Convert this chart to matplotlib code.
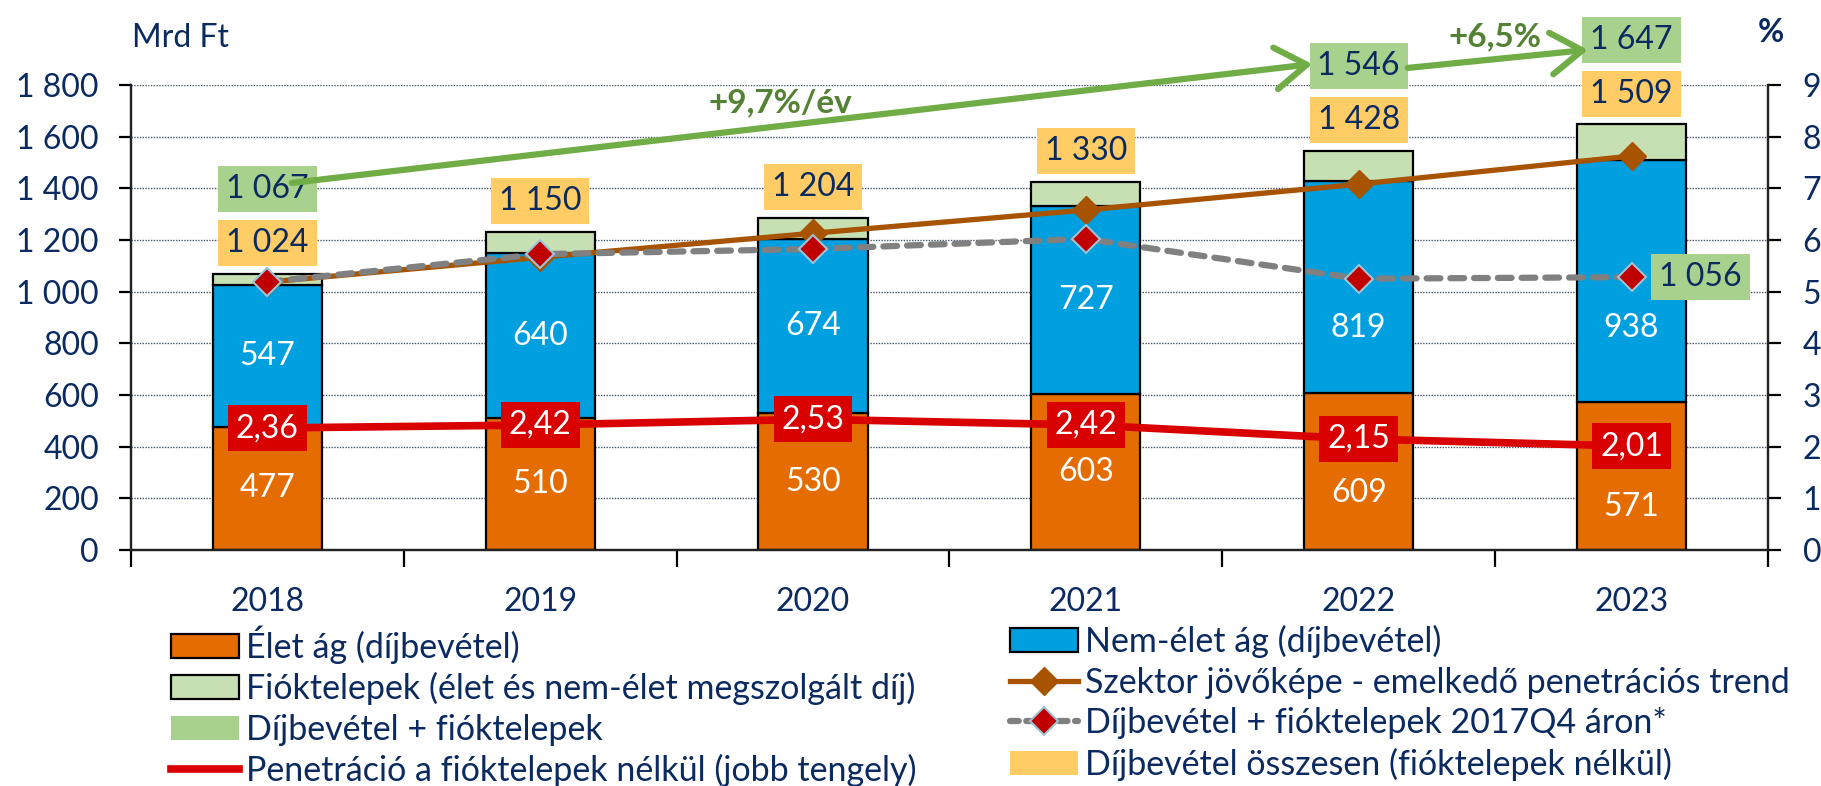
import numpy as np
import matplotlib
matplotlib.use("Agg")
import matplotlib.pyplot as plt
from matplotlib.patches import Patch
from matplotlib.lines import Line2D
from matplotlib.ticker import FuncFormatter

plt.rcParams['font.family'] = ['Lato', 'DejaVu Sans']

# data (Mrd Ft, %)
years = ['2018', '2019', '2020', '2021', '2022', '2023']
elet = [477, 510, 530, 603, 609, 571]
nemelet = [547, 640, 674, 727, 819, 938]
fiok = [43, 80, 80, 96, 118, 138]
penetracio = [2.36, 2.42, 2.53, 2.42, 2.15, 2.01]
trend = [1037, 1133, 1226, 1316, 1416, 1525]
arazott = [1038, 1145, 1165, 1204, 1050, 1056]
show_total = [True, False, False, False, True, True]

NAVY = '#0B2A60'
ORANGE = '#E46C00'
BLUE = '#009FDF'
LGREEN = '#C6E0B4'
GBOX = '#A9D18E'
OBOX = '#FFCC66'
RED = '#D90000'
BROWN = '#A75300'
GRAY = '#808080'
ARROW = '#70AD47'
DGREEN = '#548235'
FS = 23


def hu(v):
    return f"{int(round(v)):,}".replace(',', ' ')


x = np.arange(len(years))
osszesen = np.array(elet) + np.array(nemelet)
total = osszesen + np.array(fiok)

fig = plt.figure(figsize=(18.21, 7.86), dpi=100)
ax = fig.add_axes([0.0719, 0.3003, 0.899, 0.5916])
ax2 = ax.twinx()

w = 0.4
ax.bar(x, elet, w, color=ORANGE, edgecolor='black', lw=1.6, zorder=2)
ax.bar(x, nemelet, w, bottom=elet, color=BLUE, edgecolor='black', lw=1.6, zorder=2)
ax.bar(x, fiok, w, bottom=osszesen, color=LGREEN, edgecolor='black', lw=1.6, zorder=2)

ax.plot(x, trend, color=BROWN, lw=3.8, marker='D', ms=14, mfc=BROWN, mec=BROWN, zorder=3)
ax.plot(x, arazott, color=GRAY, lw=4.5, ls=(0, (2.2, 1.6)), dash_capstyle='round',
        marker='D', ms=14, mfc='#C00000', mec='#9DC3D6', mew=1.5, zorder=4)

# labels in the bars
nudge_elet = [0, 0, 0, 0, -84, -119]
nudge_nem = [0, 0, 0, 0, -159, -181]
for i in x:
    ax.text(i, elet[i] / 2 + nudge_elet[i], hu(elet[i]), color='white', ha='center',
            va='center', fontsize=FS, zorder=5)
    ax.text(i, elet[i] + nemelet[i] / 2 + nudge_nem[i], hu(nemelet[i]), color='white',
            ha='center', va='center', fontsize=FS, zorder=5)

# boxes above bars
box_h = 54 * 72 / 100
for i in x:
    ax.annotate(hu(osszesen[i]), xy=(i, total[i]), xytext=(0, 11.5), textcoords='offset points',
                ha='center', va='bottom', fontsize=FS, color=NAVY, zorder=6,
                bbox=dict(boxstyle='square,pad=0.25', fc=OBOX, ec='none'), annotation_clip=False)
    if show_total[i]:
        ax.annotate(hu(total[i]), xy=(i, total[i]), xytext=(0, 11.5 + box_h), textcoords='offset points',
                    ha='center', va='bottom', fontsize=FS, color=NAVY, zorder=6,
                    bbox=dict(boxstyle='square,pad=0.25', fc=GBOX, ec='none'), annotation_clip=False)

ax.annotate(hu(arazott[-1]), xy=(x[-1], arazott[-1]), xytext=(20, 0), textcoords='offset points',
            ha='left', va='center', fontsize=FS, color=NAVY, zorder=6,
            bbox=dict(boxstyle='square,pad=0.25', fc=GBOX, ec='none'))

# growth arrows
arr = dict(arrowstyle='->,head_length=0.75,head_width=0.5', color=ARROW, lw=4.5,
           shrinkA=0, shrinkB=0, mutation_scale=30)
ax.annotate('', xy=(3.83, 1881), xytext=(0.09, 1421), arrowprops=arr, annotation_clip=False, zorder=7)
ax.annotate('', xy=(4.84, 1936), xytext=(4.18, 1866), arrowprops=arr, annotation_clip=False, zorder=7)
ax.text(1.88, 1731, '+9,7%/év', color=DGREEN, fontsize=24, fontweight='bold', ha='center', va='center')
ax.text(4.5, 1986, '+6,5%', color=DGREEN, fontsize=24, fontweight='bold', ha='center', va='center')

# penetration on right axis
ax2.plot(x, penetracio, color=RED, lw=5.5, zorder=2)
for i in x:
    ax2.text(i, penetracio[i], f"{penetracio[i]:.2f}".replace('.', ','), color='white', ha='center',
             va='center', fontsize=FS, zorder=3,
             bbox=dict(boxstyle='square,pad=0.25', fc=RED, ec='none'))

# axes styling
ax.set_xlim(-0.5, len(years) - 0.5)
ax.set_ylim(0, 1800)
ax2.set_ylim(0, 9)
ax.set_yticks(np.arange(0, 1801, 200))
ax2.set_yticks(np.arange(0, 10, 1))
ax.yaxis.set_major_formatter(FuncFormatter(lambda v, p: hu(v)))
ax.set_axisbelow(True)
ax.yaxis.grid(True, ls=(0, (1, 1)), color='#44546A', lw=1.0)

ax.set_xticks(np.arange(-0.5, len(years), 1))
ax.set_xticklabels([])
ax.set_xticks(x, minor=True)
ax.set_xticklabels(years, minor=True)
ax.tick_params(axis='x', which='major', length=12, width=1.6, direction='out', color='black')
ax.tick_params(axis='x', which='minor', length=0, pad=27, labelsize=FS, labelcolor=NAVY)
ax.tick_params(axis='y', length=9, width=1.6, pad=14, labelsize=FS, labelcolor=NAVY)
ax2.tick_params(axis='y', length=9, width=1.6, pad=16, labelsize=FS, labelcolor=NAVY)

for a in (ax, ax2):
    a.spines['top'].set_visible(False)
    for s in ('left', 'right', 'bottom'):
        a.spines[s].set_linewidth(1.6)
        a.spines[s].set_color('#222222')

fig.text(132 / 1821, 1 - 38 / 786, 'Mrd Ft', color=NAVY, fontsize=FS, ha='left', va='center')
fig.text(1771 / 1821, 1 - 32 / 786, '%', color=NAVY, fontsize=23, fontweight='bold', ha='center', va='center')

# legend
h1 = [Patch(fc=ORANGE, ec='black', lw=1.6),
      Patch(fc=LGREEN, ec='black', lw=1.6),
      Patch(fc=GBOX, ec='none'),
      Line2D([], [], color=RED, lw=5.5)]
l1 = ['Élet ág (díjbevétel)',
      'Fióktelepek (élet és nem-élet megszolgált díj)',
      'Díjbevétel + fióktelepek',
      'Penetráció a fióktelepek nélkül (jobb tengely)']
h2 = [Patch(fc=BLUE, ec='black', lw=1.6),
      Line2D([], [], color=BROWN, lw=3.8, marker='D', ms=14, mfc=BROWN, mec=BROWN),
      Line2D([], [], color=GRAY, lw=4.5, ls=(0, (1.4, 1.2)), dash_capstyle='round',
             marker='D', ms=14, mfc='#C00000', mec='#9DC3D6', mew=1.5),
      Patch(fc=OBOX, ec='none')]
l2 = ['Nem-élet ág (díjbevétel)',
      'Szektor jövőképe - emelkedő penetrációs trend',
      'Díjbevétel + fióktelepek 2017Q4 áron*',
      'Díjbevétel összesen (fióktelepek nélkül)']
common = dict(loc='upper left', frameon=False, fontsize=24.5, labelcolor=NAVY, borderpad=0,
              borderaxespad=0, handlelength=2.0, handletextpad=0.2, labelspacing=0.25)
fig.legend(h1, l1, bbox_to_anchor=(171 / 1821, 1 - 625 / 786), **common)
fig.legend(h2, l2, bbox_to_anchor=(1010 / 1821, 1 - 625 / 786), **common)

fig.savefig('out.png', dpi=100)
